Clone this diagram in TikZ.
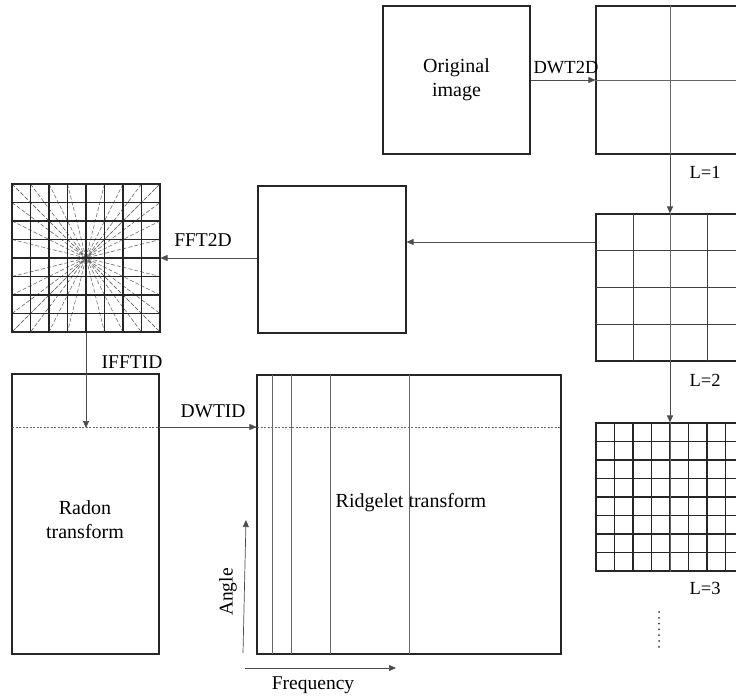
\documentclass[tikz,border=0pt]{standalone}
\usepackage{fontspec}
\setmainfont{Liberation Serif}
\usetikzlibrary{arrows.meta}
\tikzset{
  box/.style={draw=black!85, line width=1.1pt, inner sep=0pt, align=center, font=\fontsize{20}{24}\selectfont},
  inner/.style={draw=black!60, line width=0.8pt},
  gridd/.style={draw=black!85, line width=1.3pt},
  conn/.style={draw=black!70, line width=0.7pt, -{Triangle[length=7pt,width=6pt]}},
  lbl/.style={font=\fontsize{19.5}{22}\selectfont, inner sep=0pt},
  smalllbl/.style={font=\fontsize{18.5}{21}\selectfont, inner sep=0pt},
  radial/.style={draw=black!60, line width=0.6pt, dash pattern=on 4pt off 2pt},
  dotline/.style={draw=black!60, line width=0.7pt, dash pattern=on 2pt off 1.5pt}
}
\begin{document}
\begin{tikzpicture}[x=1pt,y=-1pt]
\useasboundingbox (0,0) rectangle (736,696);
\clip (0,0) rectangle (736,696);
% boxes
\node[box, minimum width=147pt, minimum height=148pt] (orig) at (456.5,80) {Original\\image};
\node[box, minimum width=148pt, minimum height=148pt] (l1) at (670,80) {};
\node[box, minimum width=148pt, minimum height=147pt] (l2) at (670,287.5) {};
\node[box, minimum width=148pt, minimum height=148pt] (l3) at (670,497) {};
\node[box, minimum width=148pt, minimum height=147pt] (fftbox) at (332,259.5) {};
\node[box, minimum width=148pt, minimum height=148pt] (grid) at (86,258) {};
\node[box, minimum width=147pt, minimum height=280pt] (radon) at (85.5,514) {};
\node[box, minimum width=304pt, minimum height=279pt] (ridge) at (409,514.5) {};
% texts inside boxes
\node[box, draw=none] (radontxt) at (85,520) {Radon\\transform};
\node[box, draw=none] (ridgetxt) at (411,503) {Ridgelet transform};
% L1 inner lines
\draw[inner] (l1.west |- 0,80) -- (l1.east |- 0,80);
% L2 grid
\foreach \i in {1,2,3} {
  \draw[inner, draw=black!75] (596+37*\i,214) -- (596+37*\i,361);
  \draw[inner, draw=black!75] (596,214+36.75*\i) -- (744,214+36.75*\i);
}
% L3 grid
\foreach \i in {1,...,7} {
  \draw[gridd] (596+18.5*\i,423) -- (596+18.5*\i,571);
  \draw[gridd] (596,423+18.5*\i) -- (744,423+18.5*\i);
}
% FFT grid with radial lines
\foreach \i in {0,...,8} {
  \draw[radial] (12+18.5*\i,184) -- (160-18.5*\i,332);
  \draw[radial] (12,184+18.5*\i) -- (160,332-18.5*\i);
}
\foreach \i in {1,...,7} {
  \draw[gridd] (12+18.5*\i,184) -- (12+18.5*\i,332);
  \draw[gridd] (12,184+18.5*\i) -- (160,184+18.5*\i);
}
\draw[box] (12,184) rectangle (160,332);
% ridgelet inner lines
\foreach \xx in {272,291,330,409} {
  \draw[inner] (\xx,375) -- (\xx,654);
}
% dotted line
\coordinate (dl) at (12,427);
\coordinate (dr) at (561,427);
\draw[dotline] (dl) -- (dr);
% connectors
\draw[conn] (orig.east |- 0,80) -- (l1.west |- 0,80);
\node[smalllbl] (dwt2d) at (566,68) {DWT2D};
\draw[conn] (l1.south) -- (l2.north);
\draw[draw=black!60, line width=0.7pt] (l1.north) -- (l1.south);
\node[smalllbl] (lone) at (705,172) {L=1};
\draw[conn] (l2.west |- 0,242) -- (fftbox.east |- 0,242);
\draw[conn] (fftbox.west |- 0,258) -- (grid.east |- 0,258);
\node[lbl] (fftlbl) at (203,240) {FFT2D};
\draw[conn] (l2.south) -- (l3.north);
\draw[draw=black!60, line width=0.7pt] (l2.north) -- (l2.south);
\node[smalllbl] (ltwo) at (705,380) {L=2};
\draw[draw=black!60, line width=0.7pt] (l3.north) -- (l3.south);
\node[smalllbl] (lthree) at (705,588) {L=3};
\coordinate (ifftend) at (86,428);
\draw[conn] (grid.south) -- (ifftend);
\node[lbl] (ifftlbl) at (132,362) {IFFTID};
\draw[conn] (radon.east |- 0,427) -- (ridge.west |- 0,427);
\node[lbl] (dwtlbl) at (213,411) {DWTID};
% dots
\foreach \k in {0,...,6} {
  \fill[black!80] (659,612+5.8*\k) circle (1pt);
}
% axes
\coordinate (a0) at (243,653);
\coordinate (a1) at (246,520);
\draw[conn] (a0) -- (a1);
\node[lbl, rotate=90] (anglelbl) at (228,592) {Angle};
\coordinate (f0) at (245,668);
\coordinate (f1) at (396,668);
\draw[conn] (f0) -- (f1);
\node[lbl] (freqlbl) at (313,685) {Frequency};
\end{tikzpicture}
\end{document}
